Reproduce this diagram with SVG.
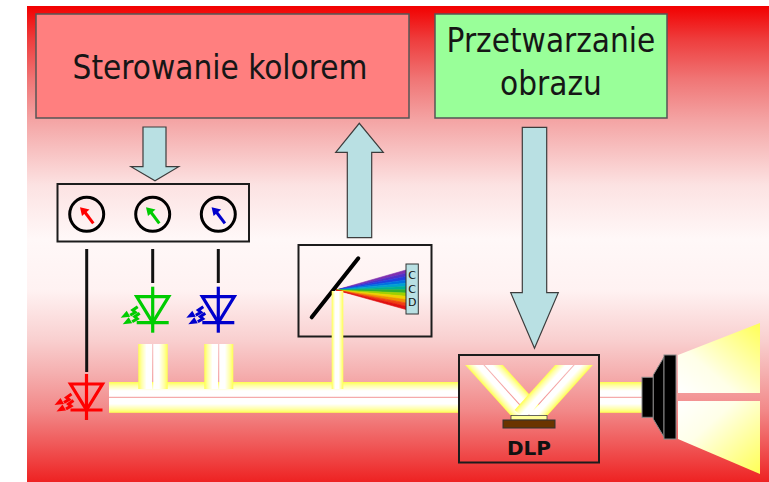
<svg xmlns="http://www.w3.org/2000/svg" width="769" height="482" viewBox="0 0 769 482">
  <style>
    .label { font-family: "DejaVu Sans Condensed", "DejaVu Sans", sans-serif; font-size: 33px; fill: #161616; text-anchor: middle; }
    .frame { fill: none; stroke: #1c1c1c; stroke-width: 2; }
    .flow { fill: #b9e0e3; stroke: #3c3c3c; stroke-width: 1.2; stroke-linejoin: miter; }
    .wire { stroke: #111; stroke-width: 3; fill: none; }
    .dial { fill: none; stroke: #000; stroke-width: 3; }
    .spk { fill: #000; stroke: #888; stroke-width: 1; }
  </style>
  <defs>
    <linearGradient id="bg" x1="0" y1="0" x2="0" y2="1">
      <stop offset="0" stop-color="#f20000"/>
      <stop offset="0.069" stop-color="#ee3c3c"/>
      <stop offset="0.155" stop-color="#f07676"/>
      <stop offset="0.24" stop-color="#f4a4a4"/>
      <stop offset="0.376" stop-color="#fce2e2"/>
      <stop offset="0.49" stop-color="#fff8f8"/>
      <stop offset="0.597" stop-color="#fff2f2"/>
      <stop offset="0.70" stop-color="#f9d0d0"/>
      <stop offset="0.77" stop-color="#f5b0b0"/>
      <stop offset="0.85" stop-color="#f28888"/>
      <stop offset="0.91" stop-color="#f06060"/>
      <stop offset="1" stop-color="#ee2222"/>
    </linearGradient>
    <!-- light beam halves: yellow rim fading to a white core -->
    <linearGradient id="beamL" x1="0" y1="0" x2="1" y2="0">
      <stop offset="0" stop-color="#ffff50"/>
      <stop offset="0.25" stop-color="#ffffa8"/>
      <stop offset="0.6" stop-color="#ffffff"/>
      <stop offset="1" stop-color="#ffffff"/>
    </linearGradient>
    <linearGradient id="beamR" x1="1" y1="0" x2="0" y2="0">
      <stop offset="0" stop-color="#ffff50"/>
      <stop offset="0.25" stop-color="#ffffa8"/>
      <stop offset="0.6" stop-color="#ffffff"/>
      <stop offset="1" stop-color="#ffffff"/>
    </linearGradient>
    <linearGradient id="beamT" x1="0" y1="0" x2="0" y2="1">
      <stop offset="0" stop-color="#ffff50"/>
      <stop offset="0.25" stop-color="#ffffa8"/>
      <stop offset="0.6" stop-color="#ffffff"/>
      <stop offset="1" stop-color="#ffffff"/>
    </linearGradient>
    <linearGradient id="beamB" x1="0" y1="1" x2="0" y2="0">
      <stop offset="0" stop-color="#ffff50"/>
      <stop offset="0.25" stop-color="#ffffa8"/>
      <stop offset="0.6" stop-color="#ffffff"/>
      <stop offset="1" stop-color="#ffffff"/>
    </linearGradient>
    <linearGradient id="beamC" x1="0" y1="0" x2="1" y2="0">
      <stop offset="0" stop-color="#ffff50"/>
      <stop offset="0.3" stop-color="#ffffff"/>
      <stop offset="0.6" stop-color="#ffffff"/>
      <stop offset="1" stop-color="#ffff50"/>
    </linearGradient>
    <linearGradient id="coneUp" x1="0" y1="1" x2="1" y2="0">
      <stop offset="0" stop-color="#ffffff"/>
      <stop offset="0.35" stop-color="#ffffe8"/>
      <stop offset="1" stop-color="#ffff55"/>
    </linearGradient>
    <linearGradient id="coneDn" x1="0" y1="0" x2="1" y2="1">
      <stop offset="0" stop-color="#ffffff"/>
      <stop offset="0.35" stop-color="#ffffe8"/>
      <stop offset="1" stop-color="#ffff55"/>
    </linearGradient>
    <clipPath id="dlpClip">
      <rect x="460" y="365" width="138" height="51"/>
    </clipPath>
    <!-- LED symbol, origin at centre of the triangle's top edge -->
    <g id="led" fill="none" stroke="currentColor" stroke-width="3.2">
      <line x1="0" y1="-10" x2="0" y2="36"/>
      <polygon points="-16,0 16,0 0,26" stroke-linejoin="miter"/>
      <line x1="-16" y1="26" x2="16" y2="26"/>
      <path d="M-15,10 l-5,3.5 l2.5,2 l-5,3 M-13,16.5 l-5,3.5 l2.5,2 l-5,3" stroke-width="3" stroke-linejoin="miter"/>
      <polygon points="-32,21 -26,14 -22.5,20" fill="currentColor" stroke="none"/>
      <polygon points="-30,27.5 -24,20.5 -20.5,26.5" fill="currentColor" stroke="none"/>
    </g>
  </defs>

  <!-- backdrop -->
  <rect x="27" y="6" width="742" height="476" fill="url(#bg)"/>

  <!-- control blocks -->
  <g id="color-control">
    <rect x="36" y="14" width="373" height="104" fill="#ff7f7f" stroke="#555" stroke-width="1.5"/>
    <text class="label" x="220" y="79">Sterowanie kolorem</text>
  </g>
  <g id="image-processing">
    <rect x="435" y="14" width="232" height="104" fill="#99ff99" stroke="#555" stroke-width="1.5"/>
    <text class="label" x="551" y="52">Przetwarzanie</text>
    <text class="label" x="551" y="95">obrazu</text>
  </g>

  <!-- meter panel with three dials -->
  <g id="meters">
    <rect class="frame" x="57.5" y="184" width="191.5" height="57.5"/>
    <circle class="dial" cx="86.7" cy="214.3" r="17"/>
    <circle class="dial" cx="152.7" cy="214.3" r="17"/>
    <circle class="dial" cx="218.3" cy="214.3" r="17"/>
    <g stroke-width="3">
      <line x1="93.3" y1="223.3" x2="84" y2="211" stroke="#ff0000"/>
      <polygon points="80,207.3 89.5,209.5 82,216" fill="#ff0000"/>
      <line x1="159.3" y1="223.3" x2="150" y2="211" stroke="#00cc00"/>
      <polygon points="146,207.3 155.5,209.5 148,216" fill="#00cc00"/>
      <line x1="224.9" y1="223.3" x2="215.6" y2="211" stroke="#0000cc"/>
      <polygon points="211.6,207.3 221.1,209.5 213.6,216" fill="#0000cc"/>
    </g>
  </g>

  <!-- connectors -->
  <g id="connectors">
    <line class="wire" x1="86.7" y1="249" x2="86.7" y2="372"/>
    <line class="wire" x1="152.7" y1="249" x2="152.7" y2="283"/>
    <line class="wire" x1="218.3" y1="249" x2="218.3" y2="283"/>
    <path class="flow" d="M143,127 H166 V166.7 H178.7 L155,180.7 L131,166.7 H143 Z"/>
    <path class="flow" d="M347.3,237.7 V152.3 H335.7 L359.3,123.3 L383.3,152.3 H371.7 V237.7 Z"/>
    <path class="flow" d="M522.3,127.3 H546.7 V292.7 H558.3 L534.5,348.3 L510.7,292.7 H522.3 Z"/>
  </g>

  <!-- light sources -->
  <g id="led-red" color="#ff0000"><use href="#led" x="86.5" y="384"/></g>
  <g id="led-green" color="#00cc00"><use href="#led" x="152.7" y="296.7"/></g>
  <g id="led-blue" color="#0000cc"><use href="#led" x="218.3" y="296.7"/></g>

  <!-- spectrometer -->
  <g id="spectrometer">
    <rect class="frame" x="298.5" y="245" width="133" height="91.5"/>
    <g stroke-width="0.6">
      <polygon points="336,290 406,270 406,273.3" fill="#8030b0" stroke="#8030b0"/>
      <polygon points="336,290 406,273.3 406,276.6" fill="#5030c8" stroke="#5030c8"/>
      <polygon points="336,290 406,276.6 406,279.9" fill="#2040e0" stroke="#2040e0"/>
      <polygon points="336,290 406,279.9 406,283.2" fill="#0070e0" stroke="#0070e0"/>
      <polygon points="336,290 406,283.2 406,286.5" fill="#00a0d0" stroke="#00a0d0"/>
      <polygon points="336,290 406,286.5 406,289.8" fill="#00b090" stroke="#00b090"/>
      <polygon points="336,290 406,289.8 406,293.0" fill="#30b030" stroke="#30b030"/>
      <polygon points="336,290 406,293.0 406,296.3" fill="#a0d000" stroke="#a0d000"/>
      <polygon points="336,290 406,296.3 406,299.6" fill="#f0d000" stroke="#f0d000"/>
      <polygon points="336,290 406,299.6 406,302.9" fill="#f09000" stroke="#f09000"/>
      <polygon points="336,290 406,302.9 406,306.2" fill="#f04010" stroke="#f04010"/>
      <polygon points="336,290 406,306.2 406,309.5" fill="#e01010" stroke="#e01010"/>
    </g>
    <line x1="311.7" y1="317.3" x2="358.3" y2="258.3" stroke="#000" stroke-width="4" stroke-linecap="round"/>
    <rect x="406" y="264" width="12.3" height="50" fill="#b9e0e3" stroke="#333" stroke-width="1"/>
    <g font-family="DejaVu Sans, sans-serif" font-size="11" fill="#111" text-anchor="middle">
      <text x="412.2" y="279">C</text>
      <text x="412.2" y="292.5">C</text>
      <text x="412.2" y="306">D</text>
    </g>
  </g>

  <!-- light path -->
  <g id="beams">
    <rect x="109" y="382" width="350" height="14.8" fill="url(#beamT)"/>
    <rect x="109" y="397.8" width="350" height="15" fill="url(#beamB)"/>
    <rect x="599" y="382" width="43" height="14.8" fill="url(#beamT)"/>
    <rect x="599" y="397.8" width="43" height="15" fill="url(#beamB)"/>
    <rect x="138.3" y="344" width="13.7" height="45" fill="url(#beamL)"/>
    <rect x="153.3" y="344" width="14.4" height="45" fill="url(#beamR)"/>
    <rect x="204.3" y="344" width="13.7" height="45" fill="url(#beamL)"/>
    <rect x="219.3" y="344" width="14" height="45" fill="url(#beamR)"/>
    <rect x="331.7" y="291" width="11.6" height="98" fill="url(#beamC)"/>
  </g>

  <!-- DLP unit -->
  <g id="dlp">
    <g clip-path="url(#dlpClip)">
      <g transform="translate(529,415) rotate(-42)">
        <rect x="-14" y="-90" width="13.5" height="96" fill="url(#beamL)"/>
        <rect x="0.5" y="-90" width="13.5" height="96" fill="url(#beamR)"/>
      </g>
      <g transform="translate(529,415) rotate(42)">
        <rect x="-14" y="-90" width="13.5" height="96" fill="url(#beamL)"/>
        <rect x="0.5" y="-90" width="13.5" height="96" fill="url(#beamR)"/>
      </g>
    </g>
    <rect x="511" y="415.5" width="36" height="4.5" fill="#ffff99" stroke="#444" stroke-width="0.8"/>
    <rect x="503" y="420" width="52" height="8" fill="#6b3400" stroke="#333" stroke-width="1"/>
    <rect class="frame" x="459" y="355" width="140" height="107.5"/>
    <text x="529" y="455" font-family="DejaVu Sans, sans-serif" font-weight="bold" font-size="20" fill="#111" text-anchor="middle">DLP</text>
  </g>

  <!-- projector lens and output cone -->
  <g id="projector">
    <rect class="spk" x="642" y="377.3" width="11.3" height="40"/>
    <polygon class="spk" points="653.3,375 664,357 664,437 653.3,419"/>
    <rect class="spk" x="664" y="355" width="12" height="84"/>
    <polygon points="678,355 760,323 760,393 678,393" fill="url(#coneUp)"/>
    <polygon points="678,401 760,401 760,474 678,439" fill="url(#coneDn)"/>
  </g>
</svg>
